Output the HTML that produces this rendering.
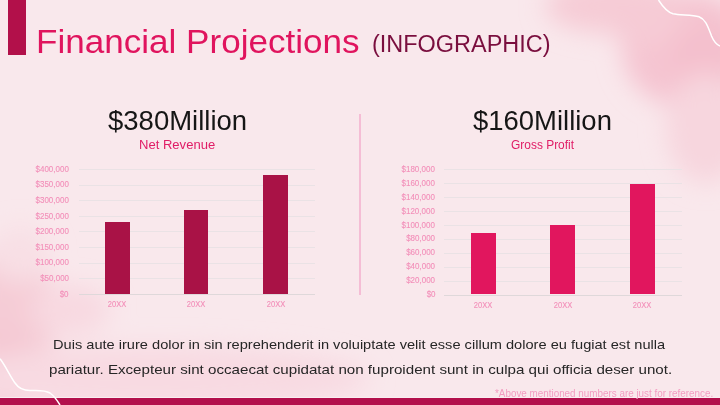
<!DOCTYPE html>
<html><head><meta charset="utf-8">
<style>
*{margin:0;padding:0;box-sizing:border-box}
html,body{width:720px;height:405px;overflow:hidden}
body{position:relative;background:#F9E8EC;font-family:"Liberation Sans",sans-serif}
.abs{position:absolute;white-space:nowrap}
#bg{position:absolute;left:0;top:0;width:720px;height:405px}
.t{position:absolute;white-space:nowrap;line-height:1;transform-origin:0 0}
.lbl{position:absolute;white-space:nowrap;line-height:10px;font-size:8.6px;color:#F28FB9;-webkit-text-stroke:0.12px #F28FB9;text-align:right;transform:scaleX(0.93);transform-origin:100% 50%}
.cat{position:absolute;white-space:nowrap;line-height:10px;font-size:8.6px;color:#F28FB9;-webkit-text-stroke:0.12px #F28FB9;width:40px;text-align:center;transform:scaleX(0.88);transform-origin:50% 50%}
</style></head>
<body>
<svg id="bg" width="720" height="405" viewBox="0 0 720 405">
  <defs>
    <filter id="blur4" x="-50%" y="-50%" width="200%" height="200%"><feGaussianBlur stdDeviation="12"/></filter>
  </defs>
  <rect width="720" height="405" fill="#F9E8EC"/>
  <g filter="url(#blur4)">
    <ellipse cx="615" cy="6" rx="70" ry="28" fill="#F6CCD6"/>
    <ellipse cx="688" cy="50" rx="66" ry="58" fill="#F5C5D1"/>
    <ellipse cx="650" cy="22" rx="42" ry="26" fill="#F6CBD5"/>
    <ellipse cx="702" cy="55" rx="34" ry="36" fill="#F4C0CD"/>
    <ellipse cx="706" cy="128" rx="40" ry="55" fill="#F7D6DE"/>
    <ellipse cx="12" cy="320" rx="42" ry="82" fill="#F5CCD6"/>
    <ellipse cx="5" cy="375" rx="32" ry="40" fill="#F4C5D0"/>
    <ellipse cx="150" cy="378" rx="220" ry="32" fill="#F8DAE2"/>
    <ellipse cx="20" cy="255" rx="30" ry="28" fill="#F8DFE5"/>
    <ellipse cx="70" cy="310" rx="40" ry="25" fill="#F8D9E1"/>
  </g>
</svg>

<div class="abs" style="left:7.5px;top:0;width:18px;height:54.7px;background:#B2104A"></div>

<div class="t" style="left:36.01px;top:23.52px;font-size:34px;color:#E0145E;transform:scaleX(1.0316)">Financial Projections</div>
<div class="t" style="left:371.78px;top:32.73px;font-size:23px;color:#7A0E3E;transform:scaleX(1.0197)">(INFOGRAPHIC)</div>

<div class="t" style="left:107.5px;top:108.3px;font-size:27px;color:#161616;transform:scaleX(1.0185)">$380Million</div>
<div class="t" style="left:138.76px;top:138.52px;font-size:12.5px;color:#E01C66;transform:scaleX(1.0437)">Net Revenue</div>
<div class="t" style="left:473.4px;top:108.4px;font-size:27px;color:#161616;transform:scaleX(1.017)">$160Million</div>
<div class="t" style="left:510.84px;top:138.52px;font-size:12.5px;color:#E01C66;transform:scaleX(0.9554)">Gross Profit</div>

<div class="abs" style="left:359.1px;top:114px;width:2px;height:180.6px;background:#F5BDD5"></div>

<div class="abs" style="left:78.5px;top:293.80px;width:236.5px;height:1px;background:#DFD8DA"></div>
<div class="lbl" style="right:651.0px;top:288.50px">$0</div>
<div class="abs" style="left:78.5px;top:278.20px;width:236.5px;height:1px;background:#EAE2E5"></div>
<div class="lbl" style="right:651.0px;top:272.90px">$50,000</div>
<div class="abs" style="left:78.5px;top:262.60px;width:236.5px;height:1px;background:#EAE2E5"></div>
<div class="lbl" style="right:651.0px;top:257.30px">$100,000</div>
<div class="abs" style="left:78.5px;top:247.00px;width:236.5px;height:1px;background:#EAE2E5"></div>
<div class="lbl" style="right:651.0px;top:241.70px">$150,000</div>
<div class="abs" style="left:78.5px;top:231.40px;width:236.5px;height:1px;background:#EAE2E5"></div>
<div class="lbl" style="right:651.0px;top:226.10px">$200,000</div>
<div class="abs" style="left:78.5px;top:215.80px;width:236.5px;height:1px;background:#EAE2E5"></div>
<div class="lbl" style="right:651.0px;top:210.50px">$250,000</div>
<div class="abs" style="left:78.5px;top:200.20px;width:236.5px;height:1px;background:#EAE2E5"></div>
<div class="lbl" style="right:651.0px;top:194.90px">$300,000</div>
<div class="abs" style="left:78.5px;top:184.60px;width:236.5px;height:1px;background:#EAE2E5"></div>
<div class="lbl" style="right:651.0px;top:179.30px">$350,000</div>
<div class="abs" style="left:78.5px;top:169.00px;width:236.5px;height:1px;background:#EAE2E5"></div>
<div class="lbl" style="right:651.0px;top:163.70px">$400,000</div>
<div class="abs" style="left:105.00px;top:221.9px;width:24.8px;height:72.00px;background:#A91246"></div>
<div class="cat" style="left:97.40px;top:299.20px">20XX</div>
<div class="abs" style="left:183.70px;top:209.9px;width:24.8px;height:84.00px;background:#A91246"></div>
<div class="cat" style="left:176.10px;top:299.20px">20XX</div>
<div class="abs" style="left:263.15px;top:175.2px;width:24.8px;height:118.70px;background:#A91246"></div>
<div class="cat" style="left:255.55px;top:299.20px">20XX</div>
<div class="abs" style="left:444.2px;top:294.50px;width:237.8px;height:1px;background:#DFD8DA"></div>
<div class="lbl" style="right:284.7px;top:289.20px">$0</div>
<div class="abs" style="left:444.2px;top:280.56px;width:237.8px;height:1px;background:#EAE2E5"></div>
<div class="lbl" style="right:284.7px;top:275.26px">$20,000</div>
<div class="abs" style="left:444.2px;top:266.62px;width:237.8px;height:1px;background:#EAE2E5"></div>
<div class="lbl" style="right:284.7px;top:261.32px">$40,000</div>
<div class="abs" style="left:444.2px;top:252.68px;width:237.8px;height:1px;background:#EAE2E5"></div>
<div class="lbl" style="right:284.7px;top:247.38px">$60,000</div>
<div class="abs" style="left:444.2px;top:238.74px;width:237.8px;height:1px;background:#EAE2E5"></div>
<div class="lbl" style="right:284.7px;top:233.44px">$80,000</div>
<div class="abs" style="left:444.2px;top:224.80px;width:237.8px;height:1px;background:#EAE2E5"></div>
<div class="lbl" style="right:284.7px;top:219.50px">$100,000</div>
<div class="abs" style="left:444.2px;top:210.86px;width:237.8px;height:1px;background:#EAE2E5"></div>
<div class="lbl" style="right:284.7px;top:205.56px">$120,000</div>
<div class="abs" style="left:444.2px;top:196.92px;width:237.8px;height:1px;background:#EAE2E5"></div>
<div class="lbl" style="right:284.7px;top:191.62px">$140,000</div>
<div class="abs" style="left:444.2px;top:182.98px;width:237.8px;height:1px;background:#EAE2E5"></div>
<div class="lbl" style="right:284.7px;top:177.68px">$160,000</div>
<div class="abs" style="left:444.2px;top:169.04px;width:237.8px;height:1px;background:#EAE2E5"></div>
<div class="lbl" style="right:284.7px;top:163.74px">$180,000</div>
<div class="abs" style="left:470.80px;top:233.0px;width:25px;height:61.00px;background:#E1165E"></div>
<div class="cat" style="left:463.30px;top:299.90px">20XX</div>
<div class="abs" style="left:550.20px;top:224.9px;width:25px;height:69.10px;background:#E1165E"></div>
<div class="cat" style="left:542.70px;top:299.90px">20XX</div>
<div class="abs" style="left:629.50px;top:183.6px;width:25px;height:110.40px;background:#E1165E"></div>
<div class="cat" style="left:622.00px;top:299.90px">20XX</div>

<div class="t" style="left:53.18px;top:338px;font-size:13px;color:#262626;transform:scaleX(1.1235)">Duis aute irure dolor in sin reprehenderit in voluiptate velit esse cillum dolore eu fugiat est nulla</div>
<div class="t" style="left:48.54px;top:363.2px;font-size:13px;color:#262626;transform:scaleX(1.1642)">pariatur. Excepteur sint occaecat cupidatat non fuproident sunt in culpa qui officia deser unot.</div>
<div class="abs" style="left:0;top:397px;width:720px;height:1px;background:#FAEEF1"></div>
<div class="abs" style="left:0;top:398px;width:720px;height:7px;background:#B3104C"></div>
<div class="t" style="left:494.9px;top:389.2px;font-size:10.2px;color:#F39CC1;transform:scaleX(0.968)">*Above mentioned numbers are just for reference.</div>
<svg class="abs" style="left:0;top:0" width="720" height="405" viewBox="0 0 720 405">
  <path d="M658.5,0 C663,7 667,12 673,13.8 C680,15.5 692,14.5 699,16.8 C706,19.5 708,27 711.5,36 C714,42 716,44.5 720,46" fill="none" stroke="#FFFFFF" stroke-width="1.5"/>
  <path d="M0,358.8 C5,365 10,376 15,383 C19,389 24,390.5 30,390.5 C36,390.5 44,389.5 50,393 C54,396 57,400 60,405" fill="none" stroke="#FFFFFF" stroke-width="1.5"/>
</svg>
</body></html>
